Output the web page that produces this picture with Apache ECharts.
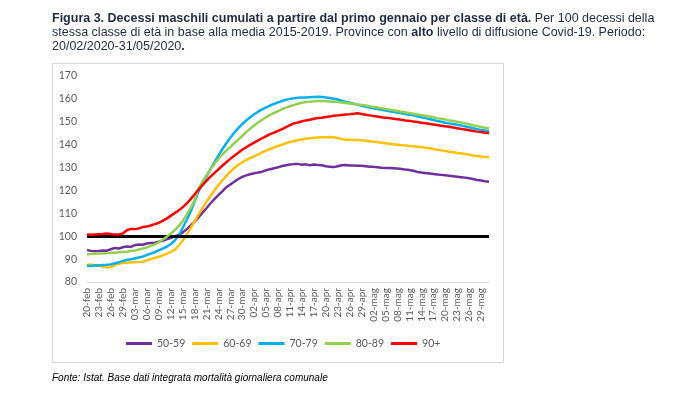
<!DOCTYPE html>
<html>
<head>
<meta charset="utf-8">
<script src="https://cdn.jsdelivr.net/npm/echarts@6/dist/echarts.min.js"></script>
<style>
html,body{margin:0;padding:0;background:#fff;}
#c{width:699px;height:397px;}
</style>
</head>
<body>
<div id="c"></div>
<script>
// Date categories 20-feb .. 31-mag 2020
const monthSpans = [['feb', 20, 29], ['mar', 1, 31], ['apr', 1, 30], ['mag', 1, 31]];
const categories = [];
monthSpans.forEach(function (m) {
  for (let d = m[1]; d <= m[2]; d++) categories.push((d < 10 ? '0' : '') + d + '-' + m[0]);
});

const seriesNames = ['50-59', '60-69', '70-79', '80-89', '90+'];
const baseline = 100;
const yTicks = [80, 90, 100, 110, 120, 130, 140, 150, 160, 170];

const s5059 = [
  94.0, 93.6, 93.4, 93.6, 93.8, 93.7, 94.3, 94.9, 94.6, 95.2,
  95.5, 95.3, 96.1, 96.4, 96.3, 96.8, 97.0, 97.2, 97.6, 98.0,
  98.6, 99.2, 99.9, 100.6, 101.6, 103.0, 104.6, 106.3, 108.2, 110.3,
  112.2, 114.3, 116.2, 118.0, 119.6, 121.4, 122.6, 123.8, 125.0, 125.9,
  126.6, 127.1, 127.5, 127.8, 128.2, 128.8, 129.3, 129.7, 130.1, 130.7,
  131.0, 131.3, 131.5, 131.6, 131.2, 131.4, 131.0, 131.3, 131.1, 131.0,
  130.6, 130.4, 130.2, 130.6, 131.0, 131.1, 130.9, 130.9, 130.8, 130.8,
  130.6, 130.4, 130.3, 130.1, 129.9, 129.8, 129.8, 129.7, 129.6, 129.4,
  129.1, 128.9, 128.6, 128.1, 127.8, 127.6, 127.4, 127.2, 127.0, 126.8,
  126.6, 126.4, 126.2, 126.0, 125.8, 125.6, 125.3, 125.0, 124.6, 124.3,
  124.0, 123.8
];
const s6069 = [
  87.4, 87.6, 87.3, 87.2, 86.8, 86.3, 86.5, 87.5, 88.0, 88.4,
  88.4, 88.5, 88.6, 88.7, 88.9, 89.4, 90.0, 90.5, 91.0, 91.6,
  92.3, 93.1, 94.0, 95.8, 98.0, 100.6, 103.4, 106.4, 109.4, 112.3,
  115.0, 117.6, 120.0, 122.3, 124.4, 126.4, 128.2, 129.8, 131.1, 132.3,
  133.3, 134.1, 134.9, 135.7, 136.6, 137.4, 138.1, 138.8, 139.4, 140.0,
  140.6, 141.1, 141.6, 142.0, 142.3, 142.6, 142.8, 143.0, 143.1, 143.2,
  143.2, 143.3, 143.2, 142.9, 142.4, 142.2, 142.1, 142.0, 142.0, 141.9,
  141.7, 141.5, 141.3, 141.1, 140.8, 140.6, 140.4, 140.2, 140.0, 139.8,
  139.6, 139.4, 139.3, 139.1, 139.0, 138.7, 138.4, 138.1, 137.8, 137.5,
  137.2, 136.9, 136.7, 136.4, 136.2, 135.9, 135.6, 135.3, 135.0, 134.8,
  134.6, 134.5
];
const s7079 = [
  87.1, 87.0, 87.2, 87.2, 87.4, 87.5, 87.7, 88.2, 88.6, 89.2,
  89.6, 89.9, 90.3, 90.7, 91.1, 91.8, 92.4, 93.0, 93.8, 94.6,
  95.4, 96.5, 98.0, 100.2, 103.5, 107.0, 110.6, 115.0, 119.5, 122.8,
  126.0, 129.2, 132.3, 135.2, 138.0, 140.6, 143.0, 145.2, 147.2, 149.0,
  150.6, 152.0, 153.3, 154.4, 155.4, 156.3, 157.1, 157.8, 158.5, 159.1,
  159.6, 160.0, 160.3, 160.5, 160.6, 160.6, 160.7, 160.8, 160.9, 160.8,
  160.6, 160.4, 160.1, 159.7, 159.2, 158.7, 158.3, 157.9, 157.5, 157.0,
  156.6, 156.2, 155.9, 155.6, 155.2, 154.9, 154.6, 154.3, 154.0, 153.7,
  153.4, 153.1, 152.8, 152.4, 152.0, 151.6, 151.2, 150.8, 150.4, 150.0,
  149.6, 149.3, 149.0, 148.7, 148.4, 148.0, 147.6, 147.2, 146.8, 146.4,
  146.2, 146.0
];
const s8089 = [
  92.1, 92.2, 92.3, 92.4, 92.5, 92.6, 92.8, 92.8, 93.0, 93.1,
  93.2, 93.5, 93.8, 94.2, 94.6, 95.1, 95.7, 96.4, 97.3, 98.5,
  99.8, 101.1, 102.6, 104.4, 106.5, 109.3, 112.3, 115.6, 120.8, 123.8,
  126.6, 129.2, 131.6, 133.8, 135.7, 137.4, 139.0, 140.6, 142.2, 143.9,
  145.5, 147.0, 148.4, 149.7, 150.9, 152.0, 153.0, 153.9, 154.7, 155.5,
  156.2, 156.8, 157.4, 157.9, 158.3, 158.6, 158.8, 159.0, 159.1, 159.1,
  159.0, 158.9, 158.8, 158.6, 158.4, 158.2, 158.0, 157.8, 157.6, 157.3,
  157.1, 156.8, 156.5, 156.2, 155.9, 155.6, 155.3, 155.0, 154.7, 154.4,
  154.1, 153.8, 153.5, 153.2, 152.9, 152.6, 152.3, 152.0, 151.6, 151.3,
  151.0, 150.6, 150.3, 150.0, 149.7, 149.3, 148.9, 148.5, 148.1, 147.7,
  147.4, 147.2
];
const s90 = [
  100.8, 100.6, 100.8, 100.9, 101.0, 101.2, 101.0, 100.7, 100.8, 101.2,
  102.6, 103.2, 103.1, 103.4, 104.0, 104.2, 104.7, 105.3, 105.8, 106.7,
  107.7, 108.9, 110.1, 111.2, 112.6, 114.2, 116.1, 118.2, 120.3, 122.3,
  124.2, 126.0, 127.6, 129.2, 130.8, 132.3, 133.8, 135.2, 136.5, 137.8,
  138.9, 139.9, 140.9, 141.9, 142.8, 143.7, 144.6, 145.3, 146.0, 146.8,
  147.7, 148.5, 149.3, 149.7, 150.2, 150.6, 150.9, 151.3, 151.6, 151.8,
  152.1, 152.3, 152.6, 152.8, 153.0, 153.2, 153.3, 153.5, 153.7, 153.4,
  153.1, 152.8, 152.5, 152.3, 152.0, 151.8, 151.6, 151.3, 151.1, 150.9,
  150.6, 150.4, 150.1, 149.9, 149.6, 149.4, 149.1, 148.8, 148.6, 148.3,
  148.0, 147.8, 147.5, 147.2, 146.9, 146.6, 146.3, 146.0, 145.7, 145.5,
  145.2, 145.0
];

const seriesData = [s5059, s6069, s7079, s8089, s90];
const colors = ['#7030a0', '#ffc000', '#00b0f0', '#92d050', '#ff0000'];

const chart = echarts.init(document.getElementById('c'), null, { renderer: 'canvas' });

const series = [{
  name: 'base',
  type: 'line',
  data: [],
  silent: true,
  z: 1,
  markLine: {
    silent: true,
    symbol: ['none', 'none'],
    label: { show: false },
    lineStyle: { color: '#000000', width: 3, type: 'solid' },
    emphasis: { disabled: true },
    animation: false,
    data: [{ yAxis: baseline }]
  }
}];
seriesNames.forEach(function (n, i) {
  series.push({
    name: n,
    type: 'line',
    data: seriesData[i],
    showSymbol: false,
    symbol: 'none',
    smooth: false,
    z: 2 + i,
    lineStyle: { color: colors[i], width: 2.5 },
    itemStyle: { color: colors[i] }
  });
});

chart.setOption({
  animation: false,
  backgroundColor: '#ffffff',
  textStyle: { fontFamily: 'Lato' },
  title: {
    left: 47,
    top: 7,
    text: '{b|Figura 3. Decessi maschili cumulati a partire dal primo gennaio per classe di età.}{n| Per 100 decessi della}\n' +
          '{n|stessa classe di età in base alla media 2015-2019. Province con }{b|alto}{n| livello di diffusione Covid-19. Periodo:}\n' +
          '{n|20/02/2020-31/05/2020}{b|.}',
    textStyle: {
      rich: {
        b: { fontFamily: 'Liberation Sans', fontWeight: 'bold', fontSize: 12.5, color: '#1f2a44', lineHeight: 14 },
        n: { fontFamily: 'Liberation Sans', fontWeight: 'normal', fontSize: 12.5, color: '#1f2a44', lineHeight: 14 }
      }
    }
  },
  graphic: [
    {
      type: 'rect',
      shape: { x: 52.5, y: 63.5, width: 451, height: 299 },
      style: { fill: 'none', stroke: '#d9d9d9', lineWidth: 1 },
      silent: true,
      z: -1
    },
    {
      type: 'text',
      left: 52,
      top: 373,
      style: {
        text: 'Fonte: Istat. Base dati integrata mortalità giornaliera comunale',
        font: 'italic 10px "Liberation Sans"',
        fill: '#000000'
      },
      silent: true
    }
  ],
  legend: {
    data: seriesNames.map(function (n) { return { name: n, icon: 'rect' }; }),
    left: 121,
    top: 333,
    itemWidth: 26,
    itemHeight: 3,
    itemGap: 7,
    textStyle: { color: '#595959', fontSize: 10.5, fontFamily: 'Lato' }
  },
  grid: { left: 87, right: 210, top: 76, bottom: 115, containLabel: false },
  xAxis: {
    type: 'category',
    data: categories,
    boundaryGap: false,
    axisLine: { show: true, lineStyle: { color: '#d9d9d9', width: 1 } },
    axisTick: { show: false },
    splitLine: { show: false },
    axisLabel: {
      interval: 2,
      rotate: 90,
      margin: 6,
      color: '#595959',
      fontSize: 10,
      fontFamily: 'Lato'
    }
  },
  yAxis: {
    type: 'value',
    min: yTicks[0],
    max: yTicks[yTicks.length - 1],
    interval: 10,
    axisLine: { show: false },
    axisTick: { show: false },
    splitLine: { show: false },
    axisLabel: { color: '#595959', fontSize: 10.5, margin: 10, fontFamily: 'Lato' }
  },
  series: series
});
</script>
</body>
</html>
